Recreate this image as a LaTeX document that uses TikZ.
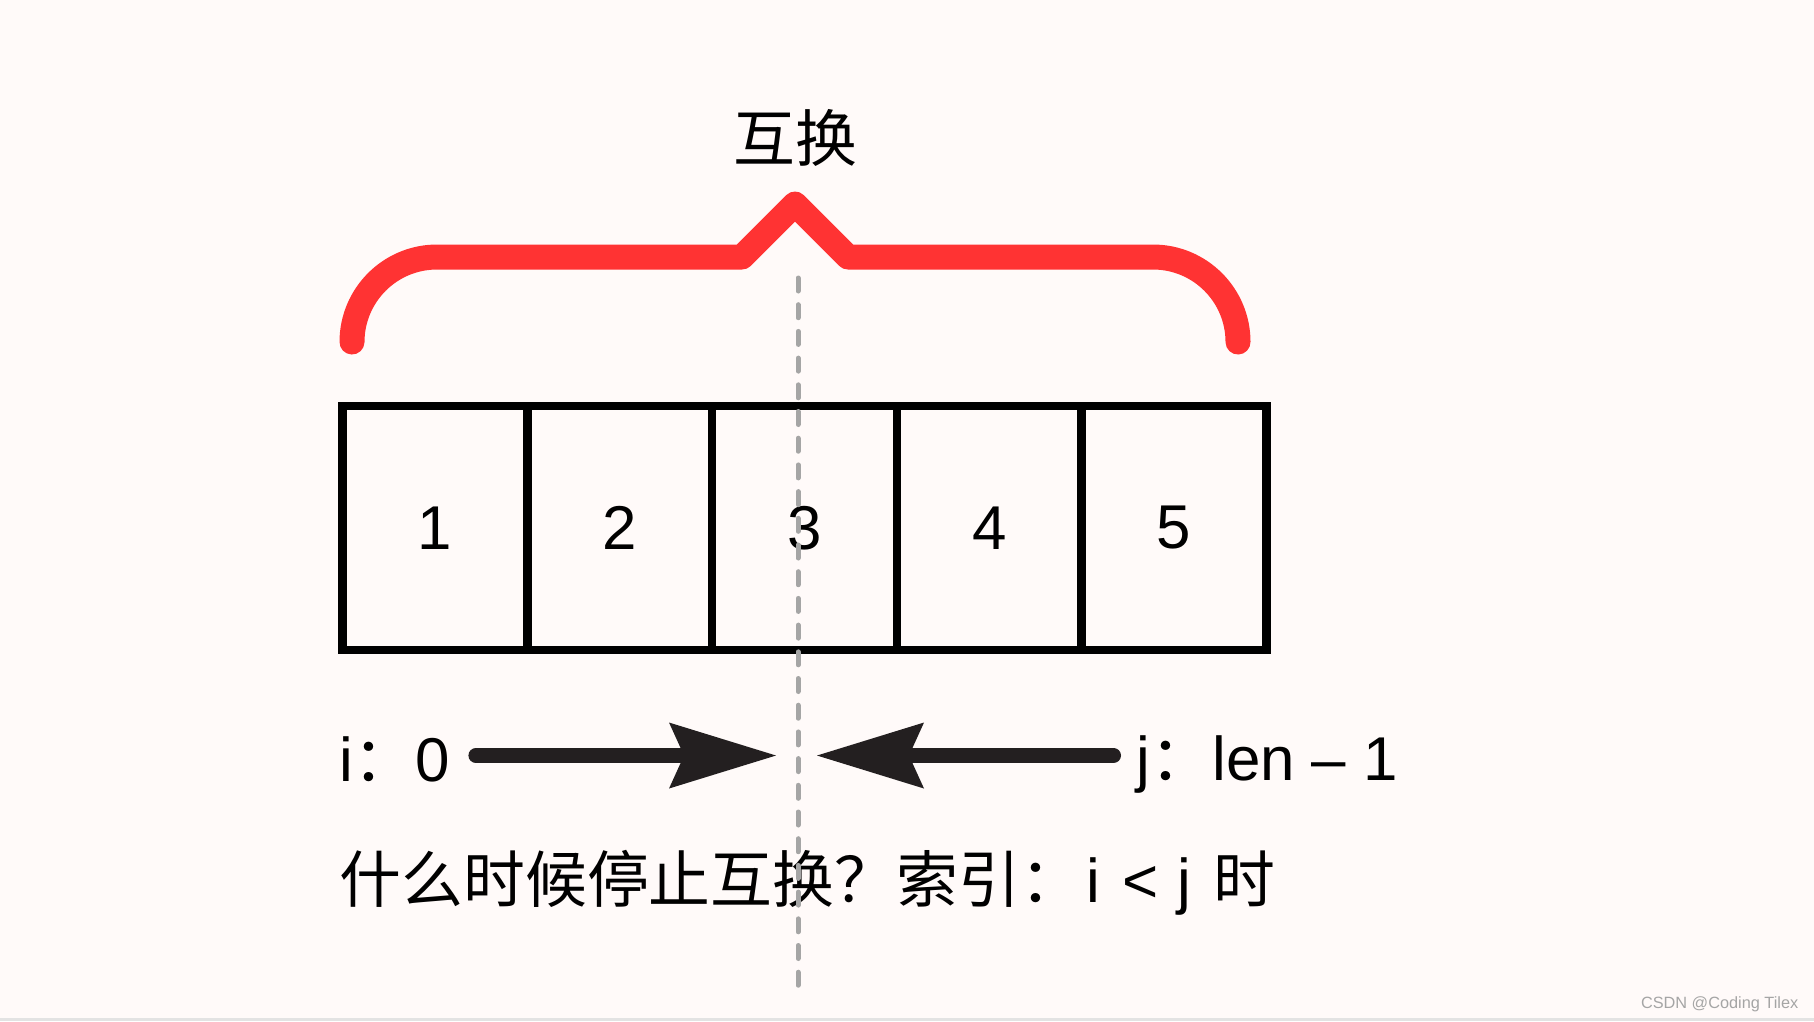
\documentclass[tikz,border=0pt]{standalone}
\usepackage{fontspec}
\setmainfont{Liberation Sans}
\newfontfamily\cjk{Noto Sans CJK SC}
\usetikzlibrary{arrows.meta}

\definecolor{rouge}{RGB}{255,51,51}
\definecolor{fond}{RGB}{255,250,249}
\definecolor{gris}{RGB}{165,165,165}
\definecolor{noir}{RGB}{35,31,32}

\tikzset{
  texte/.style={inner sep=0pt, font=\fontsize{17.6}{20}\selectfont},
  case/.style={draw=black, line width=0.085cm, minimum width=1.848cm, minimum height=2.44cm, inner sep=0pt, font=\fontsize{17.6}{20}\selectfont},
  accolade/.style={draw=rouge, line width=0.25cm, line cap=round, line join=round},
  fleche/.style={draw=noir, line width=0.15cm, line cap=round, -{Stealth[length=1.07cm, width=0.66cm, inset=0.15cm, line width=0pt]}},
  pointilles/.style={draw=gris, line width=0.05cm, line cap=round, dash pattern=on 0.13cm off 0.137cm},
  filigrane/.style={inner sep=0pt, text=gris, font=\fontsize{4.64}{6}\selectfont}
}

\begin{document}
\begin{tikzpicture}

% Fond
\fill[fond] (0,0) rectangle (18.14,-10.21);
\fill[gray!22] (0,-10.18) rectangle (18.14,-10.21);

% Accolade
\draw[accolade] (3.52,-3.42) arc[start angle=180, end angle=90, radius=0.85]
  -- (7.42,-2.57) -- (7.95,-2.04) -- (8.48,-2.57) -- (11.53,-2.57)
  arc[start angle=90, end angle=0, radius=0.85];
\node[texte] (titre) at (7.95,-1.38) {\cjk 互换};

% Tableau
\node[case] (c1) at (4.350,-5.28) {1};
\node[case] (c2) at (6.197,-5.28) {2};
\node[case] (c3) at (8.045,-5.28) {3};
\node[case] (c4) at (9.893,-5.28) {4};
\node[case] (c5) at (11.741,-5.28) {5};

% Indices
\node[texte, anchor=base west] (i0) at (3.39,-7.81) {i{\cjk ：}0};
\node[texte, anchor=base west] (jn) at (11.36,-7.80) {j{\cjk ：}len – 1};
\coordinate (pG) at (7.76,-7.555);
\coordinate (pD) at (8.17,-7.555);

% Fleches
\draw[fleche, shorten <=0.255cm] (i0.east |- pG) -- (pG);
\draw[fleche, shorten <=0.225cm] (jn.west |- pD) -- (pD);

% Question
\node[texte, anchor=base west] (question) at (3.39,-9.02)
  {{\cjk 什么时候停止互换？索引：}\hspace{0.05cm}i\hspace{0.22cm}<\hspace{0.19cm}j\hspace{0.22cm}{\cjk 时}};

% Milieu
\coordinate (mHaut) at (7.98,-2.78);
\coordinate (mBas) at (7.98,-9.97);
\draw[pointilles] (mHaut) -- (mBas);

% Filigrane
\node[filigrane, anchor=base east] (csdn) at (17.99,-10.08) {CSDN @Coding Tilex};

\end{tikzpicture}
\end{document}
